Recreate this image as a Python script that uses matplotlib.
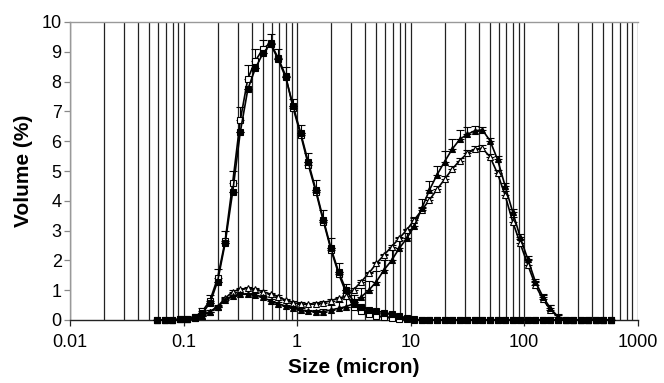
import matplotlib
matplotlib.use("Agg")
import matplotlib.pyplot as plt
from matplotlib.ticker import LogLocator, FixedLocator, NullFormatter

plt.rcParams['font.family'] = ['Liberation Sans', 'DejaVu Sans']

# size classes (micron)
size = [0.0584, 0.0681, 0.0794, 0.0926, 0.108, 0.126, 0.147, 0.171, 0.1995, 0.2326,
        0.2712, 0.3162, 0.3687, 0.4299, 0.5012, 0.5843, 0.6813, 0.7943, 0.9261, 1.080,
        1.259, 1.468, 1.711, 1.995, 2.326, 2.712, 3.162, 3.687, 4.299, 5.012,
        5.843, 6.813, 7.943, 9.261, 10.80, 12.59, 14.68, 17.11, 19.95, 23.26,
        27.12, 31.62, 36.87, 42.99, 50.12, 58.43, 68.13, 79.43, 92.61, 108.0,
        125.9, 146.8, 171.1, 199.5, 232.6, 271.2, 316.2, 368.7, 429.9, 501.2,
        584.3]

sq_filled = [0, 0, 0, 0.02, 0.05, 0.1, 0.25, 0.56, 1.29, 2.57,
             4.3, 6.3, 7.74, 8.45, 8.95, 9.26, 8.75, 8.14, 7.18, 6.26,
             5.29, 4.36, 3.36, 2.4, 1.62, 1.0, 0.62, 0.45, 0.35, 0.3,
             0.25, 0.2, 0.12, 0.06, 0.02, 0, 0, 0, 0, 0,
             0, 0, 0, 0, 0, 0, 0, 0, 0, 0,
             0, 0, 0, 0, 0, 0, 0, 0, 0, 0,
             0]
sq_open = [0, 0, 0, 0.02, 0.05, 0.1, 0.3, 0.65, 1.4, 2.65,
           4.6, 6.7, 8.1, 8.7, 9.1, 9.3, 8.8, 8.2, 7.1, 6.2,
           5.2, 4.3, 3.3, 2.35, 1.55, 0.9, 0.45, 0.3, 0.2, 0.15,
           0.1, 0.08, 0.05, 0.03, 0.01, 0, 0, 0, 0, 0,
           0, 0, 0, 0, 0, 0, 0, 0, 0, 0,
           0, 0, 0, 0, 0, 0, 0, 0, 0, 0,
           0]
tri_filled = [0, 0, 0, 0.02, 0.04, 0.08, 0.15, 0.28, 0.43, 0.67,
              0.8, 0.86, 0.87, 0.84, 0.76, 0.64, 0.54, 0.47, 0.39, 0.34,
              0.3, 0.28, 0.28, 0.34, 0.39, 0.45, 0.55, 0.78, 1.0, 1.29,
              1.68, 2.0, 2.4, 2.74, 3.15, 3.75, 4.36, 4.87, 5.31, 5.73,
              6.06, 6.23, 6.35, 6.38, 6.02, 5.39, 4.5, 3.63, 2.78, 2.04,
              1.29, 0.78, 0.39, 0.11, 0, 0, 0, 0, 0, 0,
              0]
tri_open = [0, 0, 0, 0.02, 0.04, 0.08, 0.15, 0.28, 0.45, 0.73,
            0.95, 1.03, 1.06, 1.03, 0.95, 0.87, 0.78, 0.67, 0.58, 0.54,
            0.53, 0.54, 0.58, 0.65, 0.73, 0.8, 1.02, 1.29, 1.57, 1.9,
            2.18, 2.46, 2.74, 3.02, 3.36, 3.69, 4.03, 4.38, 4.72, 5.06,
            5.35, 5.59, 5.73, 5.76, 5.48, 4.92, 4.19, 3.3, 2.57, 1.85,
            1.17, 0.69, 0.34, 0.1, 0, 0, 0, 0, 0, 0,
            0]

# upper error bars
err_sq_open = [0, 0, 0, 0, 0, 0.05, 0.1, 0.2, 0.3, 0.35,
               0.4, 0.45, 0.45, 0.4, 0.3, 0.3, 0.3, 0.3, 0.3, 0.35,
               0.4, 0.4, 0.4, 0.4, 0.35, 0.3, 0.25, 0.15, 0.1, 0.05,
               0.05, 0.03, 0.02, 0.02, 0, 0, 0, 0, 0, 0,
               0, 0, 0, 0, 0, 0, 0, 0, 0, 0,
               0, 0, 0, 0, 0, 0, 0, 0, 0, 0,
               0]
err_tri_filled = [0, 0, 0, 0, 0, 0, 0.03, 0.05, 0.05, 0.05,
                  0.05, 0.05, 0.05, 0.05, 0.05, 0.05, 0.05, 0.05, 0.05, 0.05,
                  0.05, 0.05, 0.1, 0.15, 0.2, 0.25, 0.3, 0.3, 0.3, 0.35,
                  0.35, 0.35, 0.3, 0.3, 0.3, 0.3, 0.3, 0.3, 0.35, 0.35,
                  0.3, 0.25, 0.15, 0.1, 0.1, 0.1, 0.1, 0.1, 0.1, 0.1,
                  0.1, 0.1, 0.1, 0.05, 0, 0, 0, 0, 0, 0,
                  0]
err_tri_open = [0, 0, 0, 0, 0, 0, 0.03, 0.05, 0.05, 0.05,
                0.05, 0.05, 0.05, 0.05, 0.05, 0.05, 0.05, 0.05, 0.05, 0.05,
                0.05, 0.05, 0.05, 0.05, 0.05, 0.05, 0.05, 0.05, 0.05, 0.05,
                0.05, 0.05, 0.05, 0.05, 0.05, 0.1, 0.1, 0.1, 0.1, 0.1,
                0.1, 0.1, 0.1, 0.1, 0.1, 0.1, 0.15, 0.15, 0.15, 0.15,
                0.15, 0.15, 0.15, 0.1, 0, 0, 0, 0, 0, 0,
                0]
err_sq_filled = [0.0] * len(size)

x_ticks = [0.01, 0.1, 1, 10, 100, 1000]
x_tick_labels = ["0.01", "0.1", "1", "10", "100", "1000"]
y_ticks = [0, 1, 2, 3, 4, 5, 6, 7, 8, 9, 10]

fig = plt.figure(figsize=(6.64, 3.83), dpi=100)
ax = fig.add_axes([70/664, 1-320/383, (637.5-70)/664, (320-22)/383])

series = [
    (sq_open, err_sq_open, 's', 'white'),
    (tri_open, err_tri_open, '^', 'white'),
    (sq_filled, err_sq_filled, 's', 'black'),
    (tri_filled, err_tri_filled, '^', 'black'),
]
for vals, errs, mk, fc in series:
    ax.errorbar(size, vals, yerr=[[0]*len(errs), errs], fmt='none',
                ecolor='black', elinewidth=0.8, capsize=2.8, capthick=0.8, zorder=3)
    ax.plot(size, vals, color='black', lw=1.2, marker=mk, ms=4.2 if mk == 's' else 4.8,
            mfc=fc, mec='black', mew=0.8, zorder=4, clip_on=False)

ax.set_xscale('log')
ax.set_xlim(0.01, 1000)
ax.set_ylim(0, 10)
ax.xaxis.set_major_locator(FixedLocator(x_ticks))
ax.set_xticklabels(x_tick_labels)
ax.xaxis.set_minor_locator(LogLocator(base=10, subs=[2, 3, 4, 5, 6, 7, 8, 9], numticks=20))
ax.xaxis.set_minor_formatter(NullFormatter())
ax.set_yticks(y_ticks)

ax.grid(True, which='both', axis='x', color='#222222', lw=0.9, zorder=1)
ax.tick_params(axis='x', which='major', direction='out', length=4, width=0.9,
               color='#222222', labelsize=13, pad=6)
ax.tick_params(axis='x', which='minor', length=0)
ax.tick_params(axis='y', which='major', direction='out', length=4, width=0.9,
               color='#888888', labelsize=13, pad=2)

for s in ['left', 'top']:
    ax.spines[s].set_color('#999999')
    ax.spines[s].set_linewidth(1.0)
ax.spines['right'].set_visible(False)
ax.spines['bottom'].set_color('#222222')
ax.spines['bottom'].set_linewidth(1.0)

ax.set_xlabel('Size (micron)', fontsize=15, fontweight='bold', labelpad=5)
ax.set_ylabel('Volume (%)', fontsize=15, fontweight='bold', labelpad=6)

fig.savefig('out.png', dpi=100)
